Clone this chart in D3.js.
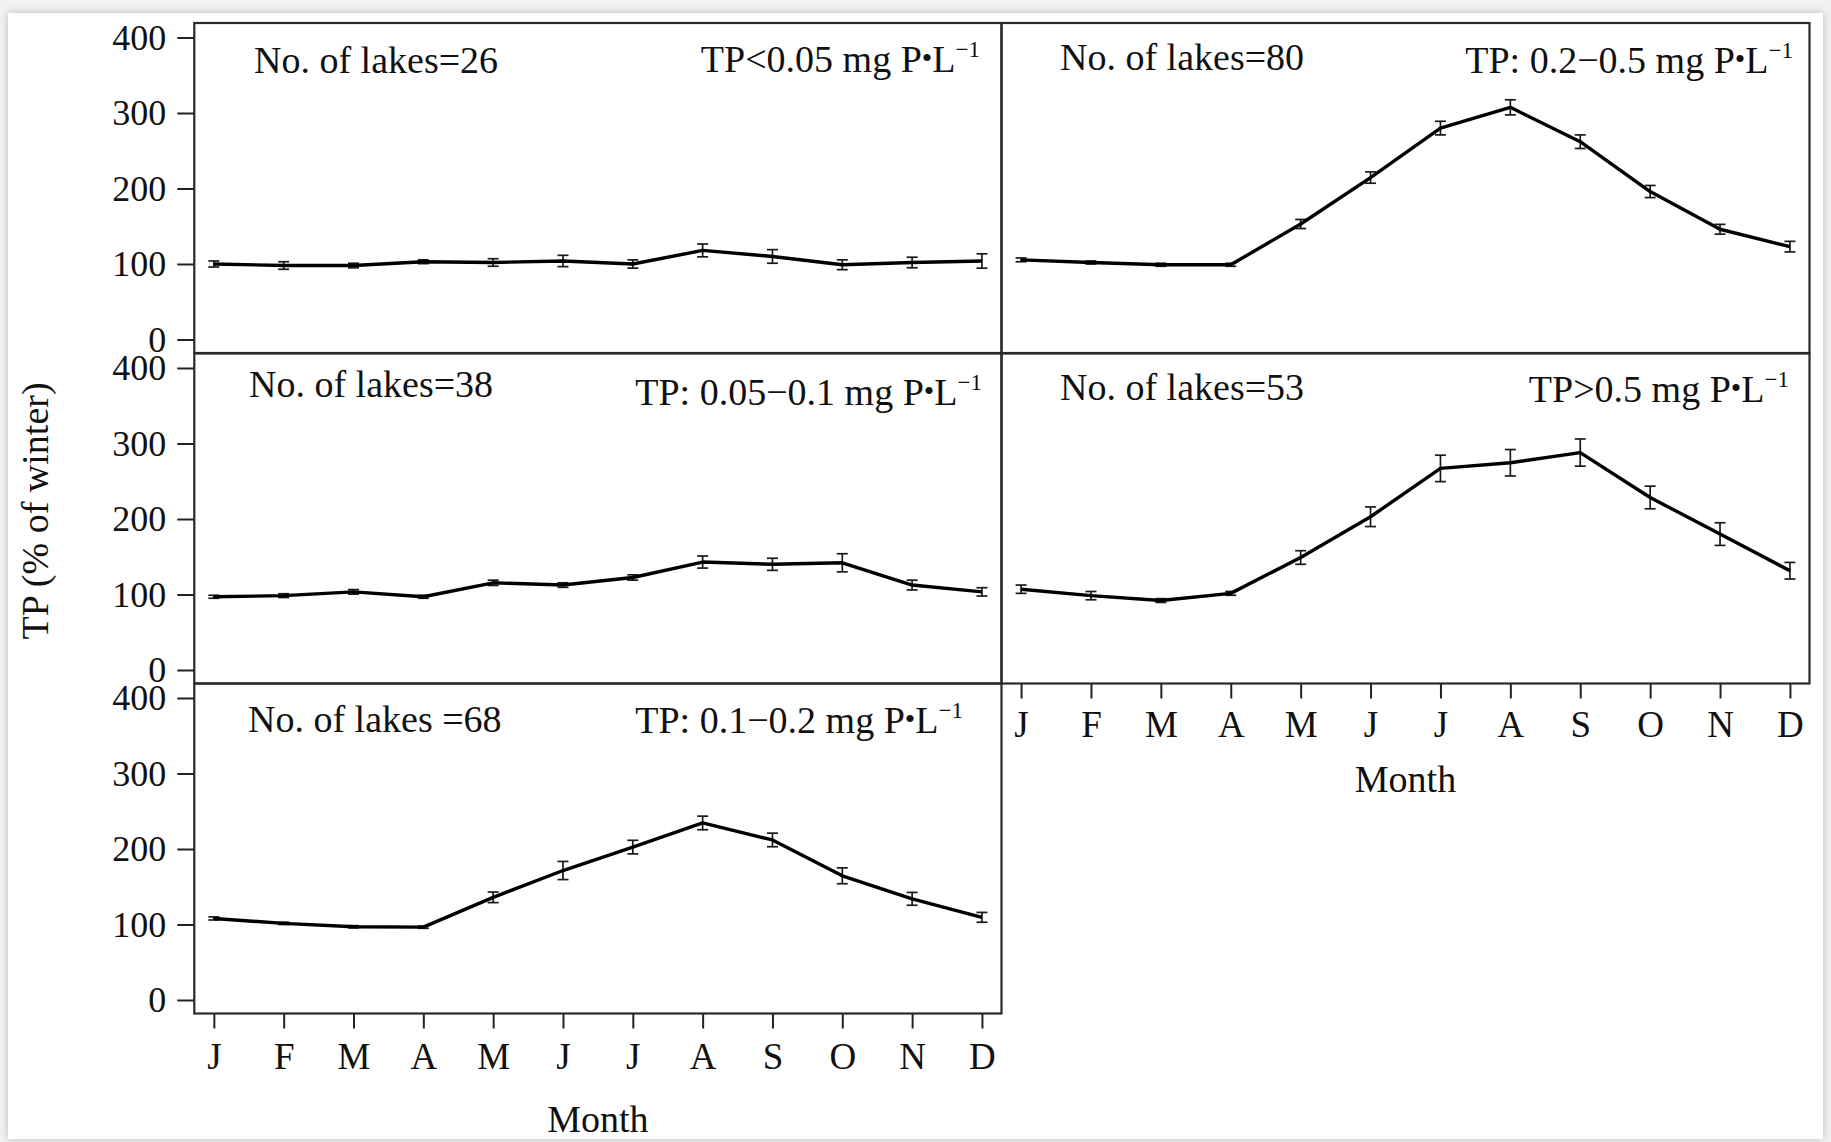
<!DOCTYPE html>
<html><head><meta charset="utf-8">
<script src="https://cdn.jsdelivr.net/npm/d3@7"></script>
<style>
body{margin:0;background:#fff;}
svg{display:block;}
text{font-family:"Liberation Serif","Times New Roman",serif;fill:#111;}
</style>
</head><body>
<svg id="chart" width="1831" height="1142"></svg>
<script>
// ---------- data ----------
const months = ["J","F","M","A","M","J","J","A","S","O","N","D"];
const yTicks = [0,100,200,300,400];

const lakeLabels = ["No. of lakes=26","No. of lakes=38","No. of lakes =68","No. of lakes=80","No. of lakes=53"];
const tpLabels = ["TP<0.05 mg P","TP: 0.05\u22120.1 mg P","TP: 0.1\u22120.2 mg P","TP: 0.2\u22120.5 mg P","TP>0.5 mg P"];

const mean1 = [100, 98, 98, 103, 102, 104, 100, 118, 110, 99, 102, 104];
const err1  = [4, 5, 3, 2.5, 5, 7.5, 5.5, 8.5, 9, 6.5, 7, 9.5];

const mean2 = [97, 98.5, 103.5, 97, 115.5, 112.5, 122.5, 143, 140, 142, 112.5, 103.5];
const err2  = [2, 2.5, 3, 2, 3.5, 3, 3.5, 8, 8, 12, 6.5, 5.5];

const mean3 = [108, 101.5, 97, 96.5, 136, 171.5, 202.5, 234.5, 212, 164.5, 134, 109.5];
const err3  = [2, 1.5, 1.5, 1.5, 7, 12, 9, 9, 9, 10.5, 8.5, 6.5];

const mean4 = [105.5, 102, 99, 99, 153, 214.5, 280, 307.5, 262, 196, 146, 123];
const err4  = [2.5, 2, 2, 2, 6, 7.5, 9, 10, 9, 8, 6.5, 7];

const mean5 = [107, 98.5, 92, 101.5, 149, 203, 267, 274.5, 288, 228.5, 180, 131.5];
const err5  = [5.5, 5.5, 2.5, 2.5, 9, 13, 17.5, 17.5, 18, 15, 15, 11];

const yTitle = "TP (% of winter)";
const xTitle = "Month";

// ---------- layout ----------
const colX = [194.3, 1001.5];
const colW = [807.2, 808];
const rowY = [23, 353.5, 683.5];
const panelH = 330;

const panels = [
  {col:0,row:0,mean:mean1,err:err1,label:0,lakeX:254,lakeDy:49.7,tpEnd:980,tpDy:48.7,xAxis:false},
  {col:0,row:1,mean:mean2,err:err2,label:1,lakeX:249,lakeDy:43.2,tpEnd:982,tpDy:51.5,xAxis:false},
  {col:0,row:2,mean:mean3,err:err3,label:2,lakeX:248,lakeDy:48.2,tpEnd:963,tpDy:49.8,xAxis:true,tickPad:14,titleDy:118},
  {col:1,row:0,mean:mean4,err:err4,label:3,lakeX:1060,lakeDy:47,tpEnd:1793,tpDy:50.3,xAxis:false},
  {col:1,row:1,mean:mean5,err:err5,label:4,lakeX:1060,lakeDy:46.5,tpEnd:1789,tpDy:48.2,xAxis:true,tickPad:12,titleDy:108}
];

const svg = d3.select("#chart");

// page frame (screenshot-like shadow)
const defs = svg.append("defs");
const f = defs.append("filter").attr("id","shadow").attr("x","-2%").attr("y","-2%").attr("width","104%").attr("height","104%");
f.append("feDropShadow").attr("dx",0).attr("dy",0).attr("stdDeviation",4)
  .attr("flood-color","#8a8a8a").attr("flood-opacity",0.55);
svg.append("rect").attr("width",1831).attr("height",1142).attr("fill","#f2f2f2");
svg.append("rect").attr("x",8).attr("y",13).attr("width",1815).attr("height",1126)
  .attr("fill","#fff").attr("filter","url(#shadow)");

panels.forEach(p => {
  const x0 = colX[p.col], w = colW[p.col], top = rowY[p.row];
  const x = d3.scalePoint().domain(d3.range(months.length)).range([x0, x0 + w]).padding(0.28);
  const y = d3.scaleLinear().domain([0,400]).range([top + 316.5, top + 14.5]);
  const g = svg.append("g");

  // y axis (left column only)
  if (p.col === 0) {
    const ay = g.append("g").attr("transform",`translate(${x0},0)`)
      .call(d3.axisLeft(y).tickValues(yTicks).tickSize(17).tickPadding(11));
    ay.select(".domain").remove();
    ay.selectAll("line").attr("stroke","#222").attr("stroke-width",2);
    ay.selectAll("text").attr("font-size",36).attr("fill","#111")
      .attr("font-family","'Liberation Serif','Times New Roman',serif");
  }

  // x axis
  if (p.xAxis) {
    const ax = g.append("g").attr("transform",`translate(0,${top + panelH})`)
      .call(d3.axisBottom(x).tickSize(15).tickPadding(p.tickPad).tickFormat(i => months[i]));
    ax.select(".domain").remove();
    ax.selectAll("line").attr("stroke","#222").attr("stroke-width",2);
    ax.selectAll("text").attr("font-size",37).attr("fill","#111")
      .attr("font-family","'Liberation Serif','Times New Roman',serif");
    g.append("text").attr("x", x0 + w/2).attr("y", top + panelH + p.titleDy)
      .attr("text-anchor","middle").attr("font-size",38).text(xTitle);
  }

  // error bars
  const eb = g.append("g").attr("stroke","#1a1a1a").attr("stroke-width",1.7).attr("fill","none");
  p.mean.forEach((v,i) => {
    const e = p.err[i], cx = x(i);
    eb.append("line").attr("x1",cx).attr("x2",cx).attr("y1",y(v - e)).attr("y2",y(v + e));
    eb.append("line").attr("x1",cx-5.5).attr("x2",cx+5.5).attr("y1",y(v - e)).attr("y2",y(v - e));
    eb.append("line").attr("x1",cx-5.5).attr("x2",cx+5.5).attr("y1",y(v + e)).attr("y2",y(v + e));
  });

  // mean line
  g.append("path").datum(p.mean)
    .attr("fill","none").attr("stroke","#000").attr("stroke-width",3.4)
    .attr("stroke-linejoin","round")
    .attr("d", d3.line().x((d,i) => x(i)).y(d => y(d)));

  // panel border
  g.append("rect").attr("x",x0).attr("y",top).attr("width",w).attr("height",panelH)
    .attr("fill","none").attr("stroke","#2a2a2a").attr("stroke-width",2.2);

  // annotations
  g.append("text").attr("x",p.lakeX).attr("y",top + p.lakeDy)
    .attr("font-size",38).text(lakeLabels[p.label]);
  const t = g.append("text").attr("x",p.tpEnd).attr("y",top + p.tpDy)
    .attr("text-anchor","end").attr("font-size",38);
  t.append("tspan").text(tpLabels[p.label]);
  t.append("tspan").attr("font-size",30).attr("dy",-4).text("\u2022");
  t.append("tspan").attr("font-size",38).attr("dy",4).text("L");
  t.append("tspan").attr("font-size",23).attr("dy",-15).text("\u22121");
});

// y-axis title
svg.append("text").attr("transform","translate(48,511) rotate(-90)")
  .attr("text-anchor","middle").attr("font-size",38).text(yTitle);
</script>
</body></html>
